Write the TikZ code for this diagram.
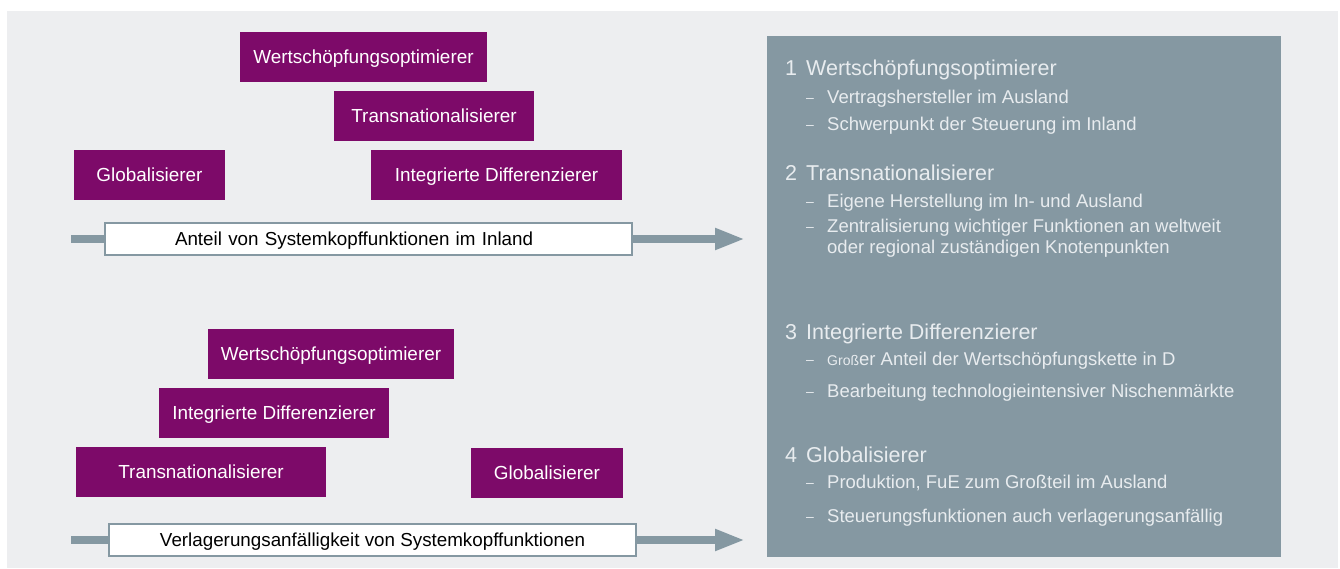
\documentclass[tikz,border=0pt]{standalone}
\usepackage{fontspec}
\setmainfont{Liberation Sans}
\usepackage{tikz}
\usetikzlibrary{arrows.meta}
\definecolor{purple}{RGB}{125,10,105}
\definecolor{slate}{RGB}{133,152,162}
\definecolor{paper}{RGB}{237,238,240}
\definecolor{pale}{RGB}{232,236,239}

\newcommand{\itemdash}{\makebox[21pt][l]{\fontsize{14}{14}\selectfont\raisebox{1pt}{–}}}

\tikzset{
  typebox/.style={fill=purple, text=white, anchor=north west, inner sep=0pt,
    outer sep=0pt, minimum height=50pt, text height=13.5pt, text depth=0pt,
    font=\fontsize{18.9}{22}\selectfont},
  axisbox/.style={draw=slate, line width=2pt, fill=white, anchor=north west,
    inner sep=0pt, outer sep=0pt, minimum height=32pt, text height=13.5pt,
    text depth=0pt, font=\fontsize{18.8}{22}\selectfont},
  axisline/.style={slate, line width=8pt},
  paneltitle/.style={anchor=base west, text=pale, inner sep=0pt,
    font=\fontsize{21.5}{24}\selectfont},
  panelitem/.style={anchor=base west, text=pale, inner sep=0pt,
    font=\fontsize{18.5}{22}\selectfont}
}

\begin{document}
\begin{tikzpicture}[x=1pt, y=-1pt]

\useasboundingbox (0,0) rectangle (1340,568);
\fill[paper] (7,11) rectangle (1338,568);

% upper ranking
\node[typebox, minimum width=247pt] (wo1) at (240,32) {Wertschöpfungsoptimierer};
\node[typebox, minimum width=200pt] (tn1) at (334,91) {Transnationalisierer};
\node[typebox, minimum width=151pt] (gl1) at (74,150) {Globalisierer};
\node[typebox, minimum width=251pt] (id1) at (371,150) {Integrierte Differenzierer};

\node[axisbox, minimum width=527pt, text width=387pt, inner xsep=70pt, align=left]
  (ax1) at (105,223) {Anteil von Systemkopffunktionen im Inland};
\coordinate (s1) at (71,239);
\coordinate (e1) at (745,239);
\draw[axisline] (s1) -- (ax1.west);
\draw[axisline, -{Triangle[length=30pt, width=20pt]}] (ax1.east) -- (e1);

% lower ranking
\node[typebox, minimum width=246pt] (wo2) at (208,329) {Wertschöpfungsoptimierer};
\node[typebox, minimum width=230pt] (id2) at (159,388) {Integrierte Differenzierer};
\node[typebox, minimum width=250pt] (tn2) at (76,447) {Transnationalisierer};
\node[typebox, minimum width=152pt] (gl2) at (471,448) {Globalisierer};

\node[axisbox, minimum width=527pt] (ax2) at (109,524) {Verlagerungsanfälligkeit von Systemkopffunktionen};
\coordinate (s2) at (71,540);
\coordinate (e2) at (745,540);
\draw[axisline] (s2) -- (ax2.west);
\draw[axisline, -{Triangle[length=30pt, width=20pt]}] (ax2.east) -- (e2);

% legend
\fill[slate] (767,36) rectangle (1281,557);

\node[paneltitle] (h1) at (785,75) {\makebox[21pt][l]{1}Wertschöpfungsoptimierer};
\node[panelitem] (h1a) at (806,103) {\itemdash Vertragshersteller im Ausland};
\node[panelitem] (h1b) at (806,130) {\itemdash Schwerpunkt der Steuerung im Inland};

\node[paneltitle] (h2) at (785,180) {\makebox[21pt][l]{2}Transnationalisierer};
\node[panelitem] (h2a) at (806,207) {\itemdash Eigene Herstellung im In- und Ausland};
\node[panelitem] (h2b) at (806,232) {\itemdash Zentralisierung wichtiger Funktionen an weltweit};
\node[panelitem] (h2c) at (827,253) {oder regional zuständigen Knotenpunkten};

\node[paneltitle] (h3) at (785,339) {\makebox[21pt][l]{3}Integrierte Differenzierer};
\node[panelitem] (h3a) at (806,365) {\itemdash {\fontsize{14}{14}\selectfont Groß}er Anteil der Wertschöpfungskette in D};
\node[panelitem] (h3b) at (806,397) {\itemdash Bearbeitung technologieintensiver Nischenmärkte};

\node[paneltitle] (h4) at (785,462) {\makebox[21pt][l]{4}Globalisierer};
\node[panelitem] (h4a) at (806,488) {\itemdash Produktion, FuE zum Großteil im Ausland};
\node[panelitem] (h4b) at (806,522) {\itemdash Steuerungsfunktionen auch verlagerungsanfällig};

\end{tikzpicture}
\end{document}
